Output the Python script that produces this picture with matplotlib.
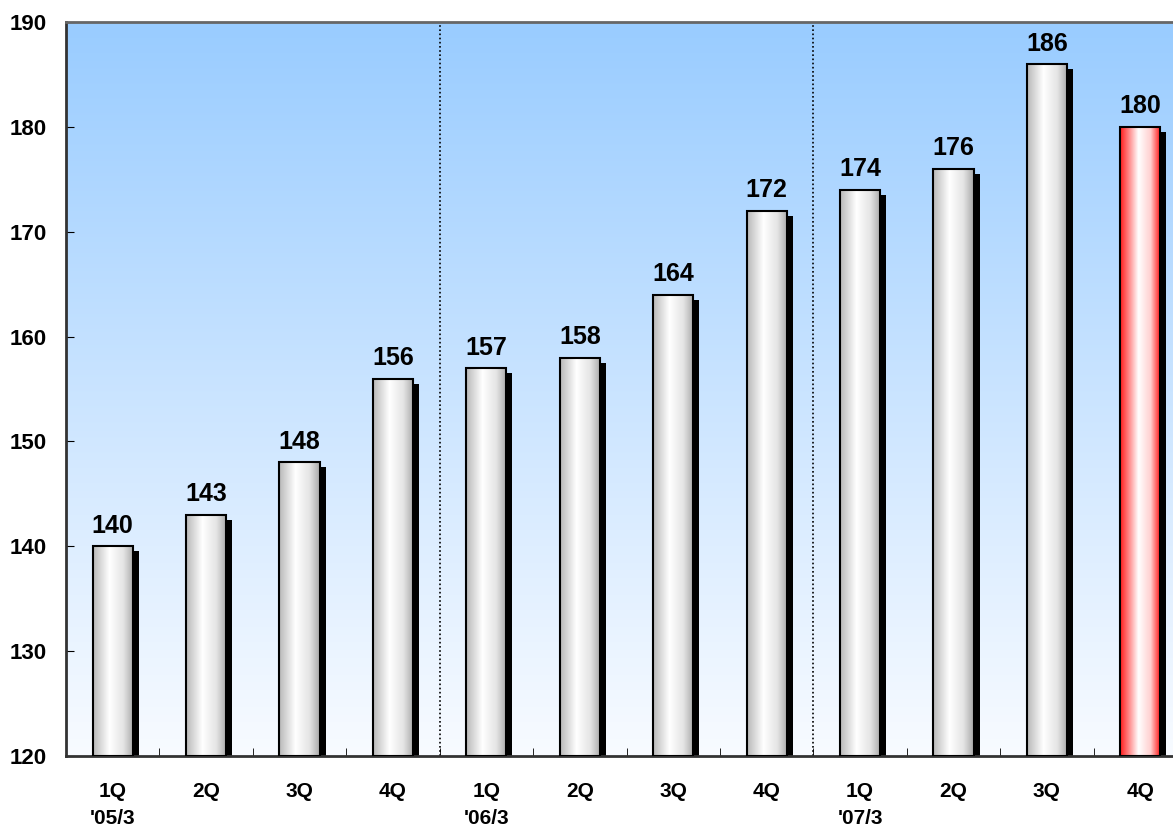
import numpy as np
import matplotlib.pyplot as plt
from matplotlib.patches import Rectangle
from matplotlib.colors import LinearSegmentedColormap

# ---------- Data ----------
quarters = ["1Q", "2Q", "3Q", "4Q", "1Q", "2Q", "3Q", "4Q", "1Q", "2Q", "3Q", "4Q"]
years = ["'05/3", "", "", "", "'06/3", "", "", "", "'07/3", "", "", ""]
values = [140, 143, 148, 156, 157, 158, 164, 172, 174, 176, 186, 180]
highlight = [False] * 11 + [True]

Y_MIN, Y_MAX = 120, 190
BAR_W = 0.43

plt.rcParams['font.family'] = ['Liberation Sans', 'DejaVu Sans']
plt.rcParams['font.weight'] = 'bold'

fig = plt.figure(figsize=(11.73, 8.30), dpi=100)
fig.patch.set_facecolor('white')
ax = fig.add_axes([66 / 1173, 74 / 830, (1187 - 66) / 1173, (756 - 22) / 830])

# background gradient (blue top -> near white bottom)
bg = LinearSegmentedColormap.from_list(
    'bg', [(0, '#f8fbff'), (0.35, '#d8ebff'), (1, '#99ccff')])
grad = np.linspace(0, 1, 256).reshape(-1, 1)
ax.imshow(grad, cmap=bg, aspect='auto', extent=[0, 1, 0, 1], origin='lower',
          transform=ax.transAxes, zorder=0)

grey_cmap = LinearSegmentedColormap.from_list(
    'grey', [(0, '#b8b8b8'), (0.4, '#ffffff'), (0.75, '#e4e4e4'), (1, '#a8a8a8')])
red_cmap = LinearSegmentedColormap.from_list(
    'red', [(0, '#ff1a1a'), (0.45, '#ffffff'), (0.75, '#ffd0d0'), (1, '#ff1010')])

x = np.arange(len(values))
dx = 6 / 93.4   # shadow offset, category units
dy = 5 / 10.49  # shadow offset, value units
hgrad = np.linspace(0, 1, 128).reshape(1, -1)

for xi, v, hl in zip(x, values, highlight):
    left = xi - BAR_W / 2
    # shadow
    ax.add_patch(Rectangle((left + dx, Y_MIN), BAR_W, v - dy - Y_MIN,
                           facecolor='black', edgecolor='none', zorder=2))
    # gradient body
    img = ax.imshow(hgrad, cmap=red_cmap if hl else grey_cmap, aspect='auto',
                    extent=[left, left + BAR_W, Y_MIN, v], zorder=3)
    body = Rectangle((left, Y_MIN), BAR_W, v - Y_MIN, facecolor='none',
                     edgecolor='black', linewidth=1.5, zorder=4)
    ax.add_patch(body)
    img.set_clip_path(body)
    ax.text(xi, v + 0.8, str(v), ha='center', va='bottom',
            fontsize=18, fontweight='bold', zorder=5)

# fiscal year separators
for sep in [3.5, 7.5]:
    ax.axvline(sep, color='black', linestyle=(0, (1, 1.5)), linewidth=1.2, zorder=1)

ax.set_xlim(-0.5, len(values) - 0.5)
ax.set_ylim(Y_MIN, Y_MAX)

ax.set_yticks(range(Y_MIN, Y_MAX + 1, 10))
ax.tick_params(axis='y', direction='in', length=6, labelsize=16, pad=14)

# quarter labels as tick labels, fiscal year labels as separate texts below
ax.set_xticks(x)
ax.set_xticklabels(quarters, fontsize=15)
ax.tick_params(axis='x', length=0, pad=19)
for xi, yr in zip(x, years):
    if yr:
        ax.annotate(yr, xy=(xi, 0), xycoords=('data', 'axes fraction'),
                    xytext=(0, -38), textcoords='offset points',
                    ha='center', va='top', fontsize=15, fontweight='bold')
ax.set_xticks(np.arange(0.5, len(values) - 0.5), minor=True)
ax.tick_params(axis='x', which='minor', direction='in', length=6)
for lab in ax.get_yticklabels() + ax.get_xticklabels():
    lab.set_fontweight('bold')

for s in ['left', 'bottom']:
    ax.spines[s].set_linewidth(2)
    ax.spines[s].set_color('#333333')
ax.spines['top'].set_color('#666666')
ax.spines['top'].set_linewidth(2)

fig.savefig('out.png', dpi=100)
